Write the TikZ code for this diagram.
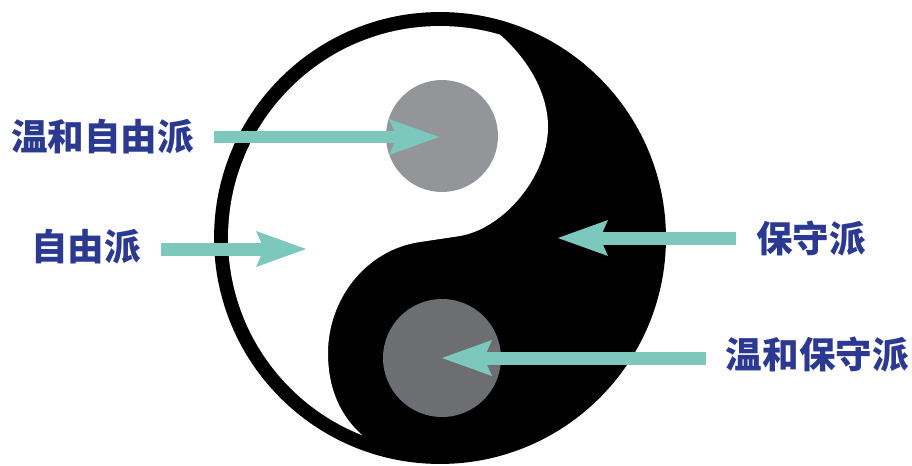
\documentclass[tikz,border=0pt]{standalone}
\usepackage{fontspec}
\newfontfamily\cjk{Noto Sans CJK SC}
\usetikzlibrary{arrows.meta}
\definecolor{PartyBlue}{RGB}{43,57,144}
\definecolor{ArrowTeal}{RGB}{124,200,188}
\definecolor{DotLight}{RGB}{147,149,152}
\definecolor{DotDark}{RGB}{109,110,113}

\begin{document}
\begin{tikzpicture}[x=0.02cm, y=-0.02cm,
lbl/.style={inner sep=0pt, text=PartyBlue, font=\cjk\bfseries\fontsize{20.8pt}{24pt}\selectfont},
arr/.style={draw=ArrowTeal, line width=0.26cm, shorten <=0.4cm,
-{Stealth[length=1cm, width=0.72cm, inset=0.16cm, line width=0pt]}}]
\useasboundingbox (0,0) rectangle (912,466);
% yin and yang
\fill (440,238) circle[radius=4.52cm];
\begin{scope}
\clip (440,238) circle[radius=4.24cm];
\fill[white] (497,32) .. controls (530,60) and (548,95) .. (548,127)
  .. controls (548,175) and (505,228) .. (460,236) -- (420,242)
  .. controls (365,250) and (328,300) .. (328,353)
  .. controls (328,395) and (345,425) .. (375,445)
  -- (375,500) -- (150,500) -- (150,-30) -- (497,-30) -- cycle;
\end{scope}
\fill[DotLight] (442,136) circle[radius=1.12cm];
\fill[DotDark] (442,358) circle[radius=1.18cm];
% labels
\node[lbl, anchor=west] (lib1) at (11,137) {温和自由派};
\node[lbl, anchor=west] (lib2) at (31,247) {自由派};
\node[lbl, anchor=east] (con1) at (866,239) {保守派};
\node[lbl, anchor=east] (con2) at (909,355) {温和保守派};
% arrows
\coordinate (t1) at (439,137);
\coordinate (t2) at (306,249);
\coordinate (t3) at (558,238);
\coordinate (t4) at (442,358);
\draw[arr] (lib1.east |- t1) -- (t1);
\draw[arr] (lib2.east |- t2) -- (t2);
\draw[arr] (con1.west |- t3) -- (t3);
\draw[arr] (con2.west |- t4) -- (t4);
\end{tikzpicture}
\end{document}
